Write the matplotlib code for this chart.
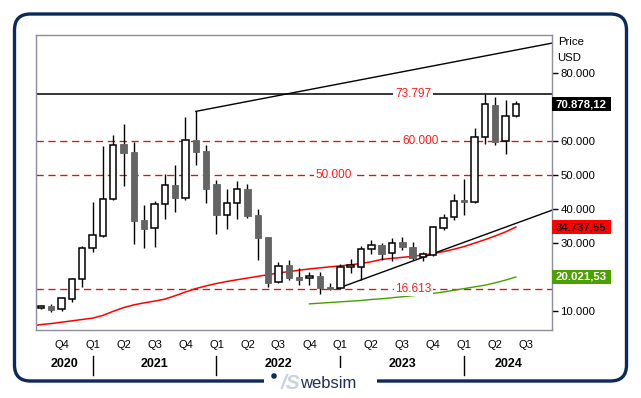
import matplotlib
matplotlib.use("Agg")
import matplotlib.pyplot as plt
from matplotlib.patches import Rectangle, FancyBboxPatch, Circle
import matplotlib.transforms as mtransforms
from matplotlib.ticker import FuncFormatter

plt.rcParams['font.family'] = ['Liberation Sans', 'DejaVu Sans']

# ---------------- data (monthly candles Aug 2020 .. Jun 2024) ----------------
months = ["2020-08", "2020-09", "2020-10", "2020-11", "2020-12",
          "2021-01", "2021-02", "2021-03", "2021-04", "2021-05", "2021-06",
          "2021-07", "2021-08", "2021-09", "2021-10", "2021-11", "2021-12",
          "2022-01", "2022-02", "2022-03", "2022-04", "2022-05", "2022-06",
          "2022-07", "2022-08", "2022-09", "2022-10", "2022-11", "2022-12",
          "2023-01", "2023-02", "2023-03", "2023-04", "2023-05", "2023-06",
          "2023-07", "2023-08", "2023-09", "2023-10", "2023-11", "2023-12",
          "2024-01", "2024-02", "2024-03", "2024-04", "2024-05", "2024-06"]
opens = [11.2, 11.5, 10.5, 13.4, 19.3,
         28.7, 32.2, 43.0, 59.1, 56.7, 36.8,
         34.3, 41.4, 47.1, 43.3, 60.5, 57.1,
         47.4, 38.4, 41.7, 45.9, 38.2, 31.7,
         18.4, 23.5, 20.0, 19.6, 20.3, 17.1,
         16.7, 23.0, 22.9, 28.2, 29.3, 27.0,
         30.2, 28.9, 25.8, 26.4, 34.5, 37.6,
         42.6, 42.1, 61.3, 70.6, 60.0, 67.4]
highs = [11.9, 12.1, 14.0, 19.6, 29.1,
         42.2, 58.5, 61.8, 65.0, 59.8, 41.2,
         42.4, 50.5, 52.9, 67.1, 68.8, 59.0,
         48.5, 45.8, 48.2, 47.4, 39.9, 31.9,
         24.5, 25.0, 22.6, 21.4, 21.5, 18.3,
         23.8, 25.3, 29.0, 30.9, 29.9, 31.4,
         31.7, 30.3, 27.3, 35.0, 38.5, 44.6,
         49.0, 64.0, 73.797, 72.9, 72.1, 71.8]
lows = [10.6, 9.6, 10.1, 12.7, 17.1,
        27.4, 31.9, 42.6, 46.8, 29.7, 28.6,
        28.9, 37.1, 39.2, 42.6, 52.9, 41.9,
        32.6, 34.2, 37.0, 37.4, 24.9, 17.1,
        18.2, 19.1, 17.6, 17.6, 15.0, 16.2,
        16.5, 21.1, 19.1, 26.7, 25.0, 24.7,
        28.0, 25.0, 24.7, 26.2, 33.8, 36.8,
        38.4, 41.7, 59.3, 58.8, 56.2, 67.0]
closes = [11.3, 10.4, 13.7, 19.3, 28.7,
          32.3, 43.1, 59.0, 56.6, 36.6, 34.2,
          41.4, 47.0, 43.3, 60.5, 56.8, 46.0,
          38.3, 41.7, 45.8, 38.0, 31.6, 18.3,
          23.4, 19.8, 19.2, 20.3, 16.9, 16.4,
          23.0, 23.3, 28.2, 29.3, 26.9, 30.1,
          28.9, 25.7, 26.8, 34.6, 37.4, 42.4,
          42.3, 61.3, 70.9, 59.9, 67.4, 70.878]

# red moving average, Jul 2020 .. Jun 2024 (index -1 .. 46)
red_ma = [5.5, 6.0, 6.3, 6.7, 7.1, 7.5,
          7.9, 8.7, 9.9, 11.0, 11.8, 12.4,
          12.9, 13.5, 14.5, 15.6, 16.6, 17.4,
          18.1, 18.7, 19.2, 19.7, 20.2, 20.7,
          21.2, 21.6, 22.0, 22.4, 22.7, 23.0,
          23.3, 23.6, 24.0, 24.5, 25.2, 25.5,
          25.8, 26.1, 26.5, 26.9, 27.5, 28.2,
          29.0, 30.0, 31.0, 32.1, 33.3, 34.74]
# green moving average, Oct 2022 .. Jun 2024
green_ma = [12.1, 12.3, 12.5, 12.7, 12.9, 13.1, 13.4, 13.6, 13.9, 14.2,
            14.5, 14.8, 15.2, 15.6, 16.1, 16.6, 17.1, 17.6, 18.3, 19.1, 20.02]

levels_dashed = [60.0, 50.0, 16.613]
level_top = 73.797
last_price = 70.878
red_last = 34.73755
green_last = 20.02153

# trendlines: (month index, value) anchor pairs
upper_trend = [(15, 68.8), (43, 85.12)]
lower_trend = [(28.7, 16.6), (45, 34.7)]

ytick_vals = [10, 30, 40, 50, 60, 80]
quarter_labels = ["Q4", "Q1", "Q2", "Q3", "Q4", "Q1", "Q2", "Q3", "Q4",
                  "Q1", "Q2", "Q3", "Q4", "Q1", "Q2", "Q3"]
year_labels = ["2020", "2021", "2022", "2023", "2024"]

# ---------------- figure ----------------
W, H = 641, 398
fig = plt.figure(figsize=(W / 100, H / 100), dpi=100)
fig.patch.set_facecolor("white")

ax = fig.add_axes([36 / W, (H - 330) / H, 516 / W, 295 / H])
XMIN, XMAX = -0.48, 49.5
ax.set_xlim(XMIN, XMAX)
ax.set_ylim(4.4, 91.3)

n = len(months)
idx = list(range(n))

# horizontal levels
ax.axhline(level_top, color="black", lw=1.1, zorder=1)
for lv in levels_dashed:
    ax.axhline(lv, color="#e01010", lw=0.95, ls=(0, (5.5, 3.5)), zorder=1)

label_kw = dict(color="#ff1a1a", fontsize=8.5, ha="center", va="center", zorder=3,
                bbox=dict(facecolor="white", edgecolor="none", pad=1.2))
ax.text(36.05, level_top, "73.797", **label_kw)
ax.text(36.8, 60.0, "60.000", **label_kw)
ax.text(28.4, 50.0, "50.000", **label_kw)
ax.text(36.1, 16.613, "16.613", **label_kw)

# moving averages
ax.plot(range(-1, n), red_ma, color="#ff0000", lw=1.1, zorder=2)
ax.plot(range(n - len(green_ma), n), green_ma, color="#44a000", lw=1.0, zorder=2)

# trendlines extended to right edge
def trend(points):
    (x0, y0), (x1, y1) = points
    s = (y1 - y0) / (x1 - x0)
    return [x0, XMAX], [y0, y0 + s * (XMAX - x0)]

tx, ty = trend(upper_trend)
ax.plot(tx, ty, color="black", lw=1.0, zorder=2)
tx, ty = trend(lower_trend)
ax.plot(tx, ty, color="black", lw=1.0, zorder=2)

# candles
bw = 0.62
for i in idx:
    o, h, l, c = opens[i], highs[i], lows[i], closes[i]
    ax.vlines(i, l, h, color="black", lw=1.0, zorder=4)
    lo, hi = min(o, c), max(o, c)
    if hi - lo < 0.6:
        mid = (hi + lo) / 2
        lo, hi = mid - 0.3, mid + 0.3
    if c >= o:
        ax.add_patch(Rectangle((i - bw / 2, lo), bw, hi - lo, facecolor="white",
                               edgecolor="black", lw=1.1, zorder=5))
    else:
        ax.add_patch(Rectangle((i - bw / 2, lo), bw, hi - lo, facecolor="#646464",
                               edgecolor="#646464", lw=0.6, zorder=5))

# axes styling
for sp in ax.spines.values():
    sp.set_color("#8e8e9e")
    sp.set_linewidth(1.0)
ax.yaxis.tick_right()
ax.set_yticks(ytick_vals)
ax.yaxis.set_major_formatter(FuncFormatter(lambda v, p: f"{v:.3f}"))
ax.tick_params(axis="y", length=4, width=1, color="black", pad=2, labelsize=8.2,
               labelcolor="black")
ax.set_xticks([])

trans_r = mtransforms.blended_transform_factory(ax.transAxes, ax.transData)
ax.text(1.011, 0.975, "Price", transform=ax.transAxes, fontsize=8.2, va="center", ha="left")
ax.text(1.009, 0.923, "USD", transform=ax.transAxes, fontsize=8.2, va="center", ha="left")

def value_box(val, face, tcolor, text):
    bh = 14 / 3.3957
    ax.add_patch(Rectangle((1.0, val - bh / 2), 59 / 516, bh, transform=trans_r,
                           facecolor=face, edgecolor="none", clip_on=False, zorder=6))
    ax.text(1.0 + 29.5 / 516, val, text, transform=trans_r, color=tcolor,
            fontsize=8.2, fontweight="bold", ha="center", va="center", zorder=7)

value_box(last_price, "black", "white", "70.878,12")
value_box(red_last, "#ff0000", "#200000", "34.737,55")
value_box(green_last, "#4aa100", "white", "20.021,53")

# x axis labels (quarters / years)
trans_x = mtransforms.blended_transform_factory(ax.transData, ax.transAxes)
q_starts = [i for i, m in enumerate(months) if int(m[5:]) in (1, 4, 7, 10)] + [n]
for qi, ql in zip(q_starts, quarter_labels):
    ax.text(qi, -0.051, ql, transform=trans_x, fontsize=8, ha="center", va="center")
jan_idx = [i for i, m in enumerate(months) if m[5:] == "01"]
for j in jan_idx:
    ax.plot([j, j], [-0.088, -0.151], transform=trans_x, color="black", lw=1.0,
            clip_on=False)
bounds = [XMIN] + jan_idx + [XMAX]
for k, yl in enumerate(year_labels):
    ax.text((bounds[k] + bounds[k + 1]) / 2, -0.115, yl, transform=trans_x,
            fontsize=9, fontweight="bold", ha="center", va="center")

# outer rounded frame
frame = FancyBboxPatch((0.145, 0.17), 6.12, 3.67,
                       boxstyle="round,pad=0,rounding_size=0.16",
                       transform=fig.dpi_scale_trans, facecolor="none",
                       edgecolor="#0b2a5b", lw=2.4, zorder=0)
fig.patches.append(frame)

# logo over bottom border
fig.patches.append(Rectangle((2.64, 0.05), 1.13, 0.25, transform=fig.dpi_scale_trans,
                             facecolor="white", edgecolor="none", zorder=1))
fig.patches.append(Circle((2.74, 0.22), 0.028, transform=fig.dpi_scale_trans,
                          facecolor="#0b2a5b", edgecolor="none", zorder=2))
fig.text(2.905, 0.145, "/S", transform=fig.dpi_scale_trans, fontsize=15,
         fontweight="bold", style="italic", color="#c9d3e0", ha="center", va="center")
fig.text(3.285, 0.15, "websim", transform=fig.dpi_scale_trans, fontsize=12,
         color="#1b2f5e", ha="center", va="center")

fig.savefig("out.png", dpi=100)
